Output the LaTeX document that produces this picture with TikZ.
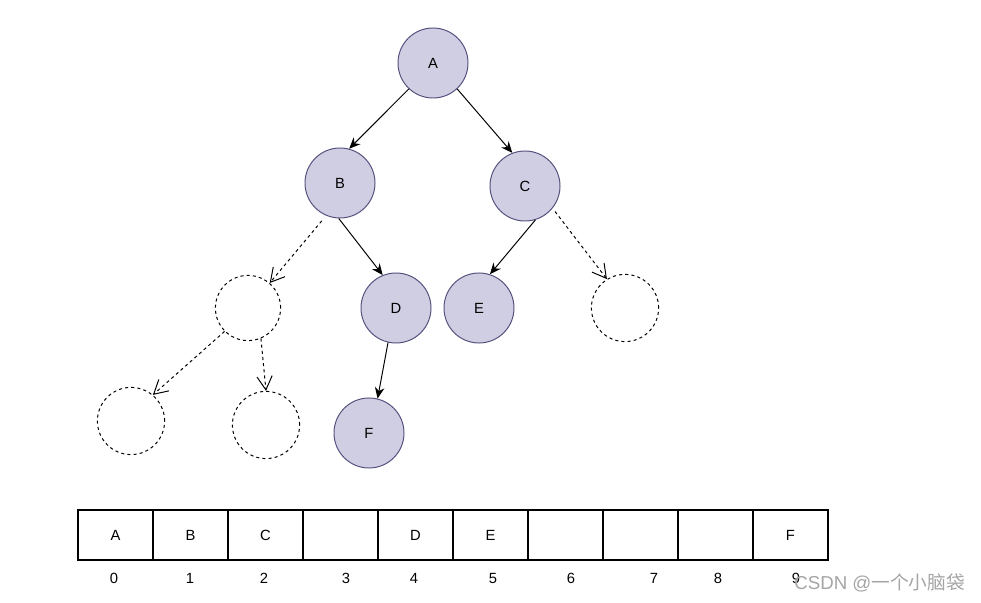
\documentclass[tikz,border=0pt]{standalone}
\usepackage{fontspec}
\setmainfont{Liberation Sans}
\newfontfamily\cjkfont{Noto Sans CJK SC}
\usetikzlibrary{arrows.meta}

\definecolor{nodefill}{HTML}{D0CEE2}
\definecolor{nodeline}{HTML}{56517E}
\definecolor{markgray}{RGB}{165,165,165}

\tikzset{
  treenode/.style={circle, draw=nodeline, fill=nodefill, line width=0.7pt,
                   minimum size=1.75cm, inner sep=0pt, font=\fontsize{10.5}{12}\selectfont},
  nilnode/.style={circle, draw=black, dash pattern=on 2.2pt off 2.2pt, line width=0.7pt,
                  minimum size=1.68cm, inner sep=0pt},
  linkarrow/.style={-{Stealth[length=2.8mm, width=2.4mm]}, line width=0.7pt},
  nilarrow/.style={-{Straight Barb[length=3.4mm, width=3.8mm]},
                   dash pattern=on 2.2pt off 2.2pt, line width=0.7pt},
  cellbox/.style={draw, line width=0.8pt, minimum width=1.875cm, minimum height=1.25cm,
                  inner sep=0pt, font=\fontsize{10.5}{12}\selectfont},
  idxlabel/.style={inner sep=1pt, font=\fontsize{10.5}{12}\selectfont}
}

\begin{document}
\begin{tikzpicture}[x=0.025cm, y=-0.025cm]
\useasboundingbox (0,0) rectangle (981,603);

% =============== TREE ===============
\node[treenode] (A) at (433,63)  {A};
\node[treenode] (B) at (340,183) {B};
\node[treenode] (C) at (525,186) {C};
\node[treenode] (D) at (396,308) {D};
\node[treenode] (E) at (479,308) {E};
\node[treenode] (F) at (369,433) {F};
% empty children
\node[nilnode, minimum size=1.63cm] (nilB) at (248,308) {};
\node[nilnode] (nilC)  at (625,308) {};
\node[nilnode] (nilBL) at (131,421) {};
\node[nilnode] (nilBR) at (266,425) {};

\draw[linkarrow] (A.227) -- (B.75);
\draw[linkarrow] (A.313) -- (C.111);
\draw[linkarrow] (B.268) -- (D.112);
\draw[linkarrow] (C.287) -- (E.72);
\draw[linkarrow] (D.257) -- (F.76);
\draw[nilarrow, shorten <=0.17cm] (B.247) -- (nilB.49);
\draw[nilarrow, shorten <=0.1cm] (C.321) -- (nilC.122);
\draw[nilarrow] (nilB.225) -- (nilBL.50);
\draw[nilarrow] (nilB.293) -- (nilBR.90);

% =============== ARRAY ===============
\foreach \lab [count=\i from 0] in {A,B,C,,D,E,,,,F}{
  \node[cellbox] (cell\i) at (115.5+75*\i,535) {\lab};
}
\foreach \xi [count=\i from 0] in {114,190,264,346,414,493,571,654,718,796}{
  \node[idxlabel] (idx\i) at (\xi,578) {\i};
}

% watermark
\node[anchor=west, inner sep=0pt, text=markgray, font=\fontsize{13.3}{15}\selectfont]
  (mark) at (794,583) {CSDN @\cjkfont 一个小脑袋};

\end{tikzpicture}
\end{document}
